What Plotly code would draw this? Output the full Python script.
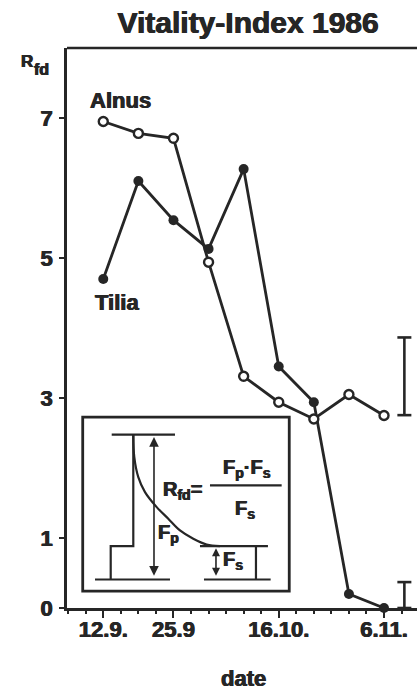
import plotly.graph_objects as go

# ---------------- data ----------------
week = [0, 1, 2, 3, 4, 5, 6, 7, 8]
alnus = [6.95, 6.78, 6.71, 4.94, 3.31, 2.94, 2.70, 3.05, 2.75]
tilia = [4.70, 6.10, 5.54, 5.13, 6.27, 3.45, 2.94, 0.20, 0.0]

tick_pos = [0, 2, 5, 8]
tick_labels = ["12.9.", "25.9", "16.10.", "6.11."]
y_ticks = [0, 1, 3, 5, 7]

err_x = [8.58, 8.58]
err_center = [3.31, 0.185]
err_half = [0.555, 0.185]

# inset schematic (local units of the inset box)
curve_x = [50.6, 51.6, 55.6, 62.3, 74.0, 85.6, 97.3, 110.6, 124.0, 137.3]
curve_y = [156.4, 134, 114, 99, 84, 72.4, 60.7, 52.4, 46.7, 45.0]
step_x = [28, 28, 50.6, 50.6]
step_y = [11.7, 45, 45, 156.4]

FONT = "Liberation Sans, Arial, Helvetica, sans-serif"
INK = "#262626"
HEAVY = "0.5px 0px 0px #262626, -0.5px 0px 0px #262626"

fig = go.Figure()

# main series
fig.add_trace(go.Scatter(
    x=week, y=tilia, mode="lines+markers", name="Tilia",
    line=dict(color=INK, width=2.8),
    marker=dict(symbol="circle", size=10, color=INK),
    cliponaxis=False, showlegend=False))
fig.add_trace(go.Scatter(
    x=week, y=alnus, mode="lines+markers", name="Alnus",
    line=dict(color=INK, width=2.8),
    marker=dict(symbol="circle", size=9, color="white", line=dict(color=INK, width=2.4)),
    cliponaxis=False, showlegend=False))

# LSD bars (vertical stroke + caps), built from the arrays
for xe, c, h in zip(err_x, err_center, err_half):
    fig.add_trace(go.Scatter(
        x=[xe, xe], y=[c - h, c + h], mode="lines+markers",
        line=dict(color=INK, width=2.6),
        marker=dict(symbol="line-ew", size=10, color=INK, line=dict(color=INK, width=2.6)),
        cliponaxis=False, showlegend=False, hoverinfo="skip"))

# inset schematic lines
seg = dict(mode="lines", xaxis="x2", yaxis="y2", showlegend=False, hoverinfo="skip")
lw = 2.2
fig.add_trace(go.Scatter(x=[29, 92.3], y=[156.4, 156.4], line=dict(color=INK, width=lw), **seg))
fig.add_trace(go.Scatter(x=step_x, y=step_y, line=dict(color=INK, width=lw), **seg))
fig.add_trace(go.Scatter(x=curve_x, y=curve_y, line=dict(color=INK, width=lw, shape="spline"), **seg))
fig.add_trace(go.Scatter(x=[117.3, 185.3], y=[45, 45], line=dict(color=INK, width=lw), **seg))
fig.add_trace(go.Scatter(x=[173.3, 173.3], y=[45, 11.7], line=dict(color=INK, width=lw), **seg))
fig.add_trace(go.Scatter(x=[12.3, 87.3], y=[11.7, 11.7], line=dict(color=INK, width=lw), **seg))
fig.add_trace(go.Scatter(x=[121.3, 188], y=[11.7, 11.7], line=dict(color=INK, width=lw), **seg))
fig.add_trace(go.Scatter(x=[127.3, 199], y=[105.7, 105.7], line=dict(color=INK, width=lw), **seg))

bold = dict(family=FONT, color=INK, weight="bold", shadow=HEAVY)

annotations = [
    dict(text="Alnus", x=0.5, y=7.25, xref="x", yref="y", showarrow=False,
         font=dict(size=22, **bold)),
    dict(text="Tilia", x=0.38, y=4.36, xref="x", yref="y", showarrow=False,
         font=dict(size=22, **bold)),
    dict(text="date", x=0.503, y=-0.125, xref="paper", yref="paper", showarrow=False,
         yanchor="middle", font=dict(size=22, **bold)),
    dict(text="R", x=-0.137, y=0.976, xref="paper", yref="paper",
         showarrow=False, yanchor="middle", font=dict(size=17, **bold)),
    dict(text="fd", x=-0.100, y=0.962, xref="paper", yref="paper",
         showarrow=False, yanchor="middle", font=dict(size=16, **bold)),
    # inset texts
    dict(text="R<sub>fd</sub>=", x=100.3, y=100.7, xref="x2", yref="y2", showarrow=False,
         font=dict(size=20, **bold)),
    dict(text="F<sub>p</sub>·F<sub>s</sub>", x=164, y=122.7, xref="x2", yref="y2",
         showarrow=False, font=dict(size=20, **bold)),
    dict(text="F<sub>s</sub>", x=162.3, y=82, xref="x2", yref="y2", showarrow=False,
         font=dict(size=20, **bold)),
    dict(text="F<sub>p</sub>", x=86, y=57.7, xref="x2", yref="y2", showarrow=False,
         font=dict(size=20, **bold)),
    dict(text="F<sub>s</sub>", x=150, y=30.7, xref="x2", yref="y2", showarrow=False,
         font=dict(size=20, **bold)),
    # arrows
    dict(text="", x=71.3, y=154, ax=71.3, ay=14, xref="x2", yref="y2", axref="x2", ayref="y2",
         showarrow=True, arrowhead=2, startarrowhead=2, arrowside="end+start",
         arrowsize=1.2, arrowwidth=1.6, arrowcolor=INK),
    dict(text="", x=133.3, y=43, ax=133.3, ay=14, xref="x2", yref="y2", axref="x2", ayref="y2",
         showarrow=True, arrowhead=2, startarrowhead=2, arrowside="end+start",
         arrowsize=1.0, arrowwidth=1.6, arrowcolor=INK),
]

shapes = [
    # top frame line
    dict(type="line", xref="paper", yref="paper", x0=0, x1=1, y0=1, y1=1,
         line=dict(color=INK, width=2.4)),
    # inset box
    dict(type="rect", xref="x2 domain", yref="y2 domain", x0=0, x1=1, y0=0, y1=1,
         line=dict(color=INK, width=2.8), fillcolor="rgba(0,0,0,0)"),
]

fig.update_layout(
    width=417, height=690,
    margin=dict(l=67, r=0, t=48, b=82, autoexpand=False),
    paper_bgcolor="white", plot_bgcolor="white",
    title=dict(text="Vitality-Index 1986", x=0.595, xanchor="center",
               y=0.968, yanchor="middle", xref="container",
               font=dict(size=30, **bold)),
    xaxis=dict(range=[-1.034, 8.94], showgrid=False, zeroline=False, automargin=False,
               showline=True, linecolor=INK, linewidth=2.6,
               tickmode="array", tickvals=tick_pos, ticktext=tick_labels,
               ticks="outside", ticklen=7, tickwidth=2.2, tickcolor=INK,
               ticklabelstandoff=-7,
               tickfont=dict(size=22, **bold), ticklabeloverflow="allow",
               minor=dict(tickmode="linear", tick0=0, dtick=0.5, ticks="outside",
                          ticklen=3, tickwidth=1.5, tickcolor=INK, showgrid=False)),
    yaxis=dict(range=[0, 8], showgrid=False, zeroline=False, automargin=False,
               showline=True, linecolor=INK, linewidth=2.6,
               tickmode="array", tickvals=y_ticks, ticktext=[str(v) for v in y_ticks],
               ticks="outside", ticklen=5, tickwidth=1.5, tickcolor=INK,
               ticklabelstandoff=2,
               tickfont=dict(size=22, **bold)),
    xaxis2=dict(domain=[0.0449, 0.635], anchor="y2", range=[0, 206.6], visible=False,
                fixedrange=True),
    yaxis2=dict(domain=[0.030, 0.341], anchor="x2", range=[0, 174], visible=False,
                fixedrange=True),
    annotations=annotations,
    shapes=shapes,
    showlegend=False,
)

fig.write_html(
    "out.html",
    config={"displayModeBar": False},
    post_script="document.body.style.margin='0';document.body.style.overflow='hidden';",
)
